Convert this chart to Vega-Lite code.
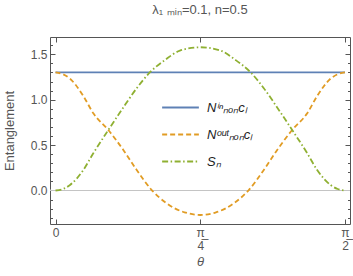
{
  "$schema": "https://vega.github.io/schema/vega-lite/v6.json",
  "width": 300,
  "height": 187,
  "autosize": {"type": "none"},
  "padding": {"left": 50, "top": 37, "right": 3, "bottom": 52},
  "title": {"text": "λ₁ ₘᵢₙ=0.1, n=0.5", "fontSize": 13, "color": "#555", "font": "Liberation Sans", "fontWeight": "normal", "anchor": "middle", "offset": 20},
  "config": {
    "view": {"stroke": "#555", "strokeWidth": 1},
    "axis": {"grid": false, "domain": false, "tickColor": "#555", "labelColor": "#555", "labelFont": "Liberation Sans", "labelFontSize": 12, "titleFont": "Liberation Sans", "titleColor": "#555", "titleFontWeight": "normal", "titleFontSize": 13}
  },
  "datasets": {
    "curves": [
      {"t": 0, "s": "in", "v": 1.30},
      {"t": 1.5708, "s": "in", "v": 1.30},
      {"t": 0, "s": "out", "v": 1.30},
      {"t": 0.04, "s": "out", "v": 1.28},
      {"t": 0.0787, "s": "out", "v": 1.23},
      {"t": 0.151, "s": "out", "v": 1.04},
      {"t": 0.205, "s": "out", "v": 0.85},
      {"t": 0.2865, "s": "out", "v": 0.666},
      {"t": 0.368, "s": "out", "v": 0.446},
      {"t": 0.4406, "s": "out", "v": 0.226},
      {"t": 0.522, "s": "out", "v": 0.005},
      {"t": 0.603, "s": "out", "v": -0.141},
      {"t": 0.65, "s": "out", "v": -0.2},
      {"t": 0.70, "s": "out", "v": -0.24},
      {"t": 0.7854, "s": "out", "v": -0.27},
      {"t": 0.8708, "s": "out", "v": -0.24},
      {"t": 0.9208, "s": "out", "v": -0.2},
      {"t": 0.9678, "s": "out", "v": -0.141},
      {"t": 1.0488, "s": "out", "v": 0.005},
      {"t": 1.1302, "s": "out", "v": 0.226},
      {"t": 1.2028, "s": "out", "v": 0.446},
      {"t": 1.2843, "s": "out", "v": 0.666},
      {"t": 1.3658, "s": "out", "v": 0.85},
      {"t": 1.4198, "s": "out", "v": 1.04},
      {"t": 1.4921, "s": "out", "v": 1.23},
      {"t": 1.5308, "s": "out", "v": 1.28},
      {"t": 1.5708, "s": "out", "v": 1.30},
      {"t": 0, "s": "S", "v": 0},
      {"t": 0.04, "s": "S", "v": 0.016},
      {"t": 0.0787, "s": "S", "v": 0.061},
      {"t": 0.151, "s": "S", "v": 0.226},
      {"t": 0.205, "s": "S", "v": 0.41},
      {"t": 0.2865, "s": "S", "v": 0.666},
      {"t": 0.359, "s": "S", "v": 0.887},
      {"t": 0.4406, "s": "S", "v": 1.126},
      {"t": 0.5127, "s": "S", "v": 1.302},
      {"t": 0.594, "s": "S", "v": 1.437},
      {"t": 0.675, "s": "S", "v": 1.54},
      {"t": 0.7854, "s": "S", "v": 1.577},
      {"t": 0.8958, "s": "S", "v": 1.54},
      {"t": 0.9768, "s": "S", "v": 1.437},
      {"t": 1.0581, "s": "S", "v": 1.302},
      {"t": 1.1302, "s": "S", "v": 1.126},
      {"t": 1.2118, "s": "S", "v": 0.887},
      {"t": 1.2843, "s": "S", "v": 0.666},
      {"t": 1.3658, "s": "S", "v": 0.41},
      {"t": 1.4198, "s": "S", "v": 0.226},
      {"t": 1.4921, "s": "S", "v": 0.061},
      {"t": 1.5308, "s": "S", "v": 0.016},
      {"t": 1.5708, "s": "S", "v": 0}
    ]
  },
  "data": {"name": "curves"},
  "resolve": {"axis": {"x": "independent", "y": "independent"}},
  "layer": [
    {
      "mark": {"type": "rule", "color": "#c4c4c4", "strokeWidth": 1},
      "encoding": {
        "x": {"datum": -0.03, "type": "quantitative", "scale": {"domain": [-0.03, 1.598], "nice": false, "zero": false},
              "axis": {"orient": "top", "values": [0, 0.7854, 1.5708], "labels": false, "tickSize": -5, "title": null}},
        "x2": {"datum": 1.598},
        "y": {"datum": 0, "type": "quantitative", "scale": {"domain": [-0.369, 1.69], "nice": false, "zero": false},
              "axis": {"orient": "right", "values": [0, 0.5, 1, 1.5], "labels": false, "tickSize": -5, "title": null}}
      }
    },
    {
      "mark": {"type": "line", "strokeOpacity": 0},
      "encoding": {
        "x": {"field": "t", "type": "quantitative", "axis": null},
        "y": {"field": "v", "type": "quantitative",
              "axis": {"orient": "left", "values": [-0.3, -0.2, -0.1, 0.1, 0.2, 0.3, 0.4, 0.6, 0.7, 0.8, 0.9, 1.1, 1.2, 1.3, 1.4, 1.6], "labels": false, "tickSize": -2.5, "title": null}},
        "detail": {"field": "s"}
      }
    },
    {
      "mark": {"type": "line", "strokeOpacity": 0},
      "encoding": {
        "x": {"field": "t", "type": "quantitative", "axis": null},
        "y": {"field": "v", "type": "quantitative",
              "axis": {"orient": "right", "values": [-0.3, -0.2, -0.1, 0.1, 0.2, 0.3, 0.4, 0.6, 0.7, 0.8, 0.9, 1.1, 1.2, 1.3, 1.4, 1.6], "labels": false, "tickSize": -2.5, "title": null}},
        "detail": {"field": "s"}
      }
    },
    {
      "mark": {"type": "line", "strokeWidth": 1.8, "interpolate": "monotone"},
      "encoding": {
        "x": {"field": "t", "type": "quantitative",
              "axis": {"orient": "bottom", "values": [0, 0.7854, 1.5708], "tickSize": -5, "labelPadding": 8,
                       "labelExpr": "datum.value == 0 ? '0' : (datum.value < 1 ? ['π̲', '4'] : ['π̲', '2'])",
                       "labelLineHeight": 13, "title": "θ", "titleFontStyle": "italic", "titlePadding": 4}},
        "y": {"field": "v", "type": "quantitative",
              "axis": {"orient": "left", "values": [0, 0.5, 1, 1.5], "format": ".1f", "tickSize": -5, "labelPadding": 8,
                       "title": "Entanglement", "titlePadding": 14}},
        "color": {"field": "s", "type": "nominal", "sort": ["in", "out", "S"],
                  "scale": {"domain": ["in", "out", "S"], "range": ["#5E81B5", "#E19C24", "#8FB032"]},
                  "legend": {"title": null, "orient": "none", "legendX": 111, "legendY": 51, "symbolType": "stroke",
                             "symbolSize": 1350, "symbolStrokeWidth": 2, "rowPadding": -12, "labelFontSize": 13, "labelFont": "Liberation Sans",
                             "labelFontStyle": "italic", "labelColor": "#222", "labelOffset": 7,
                             "labelExpr": "datum.label == 'in' ? 'Nⁱⁿₙₒₙcₗ' : (datum.label == 'out' ? 'Nᵒᵘᵗₙₒₙcₗ' : 'Sₙ')"}},
        "strokeDash": {"field": "s", "type": "nominal", "sort": ["in", "out", "S"],
                       "scale": {"domain": ["in", "out", "S"], "range": [[1, 0], [5, 3], [6, 2.5, 1.5, 2.5]]},
                       "legend": {"title": null}}
      }
    }
  ]
}
